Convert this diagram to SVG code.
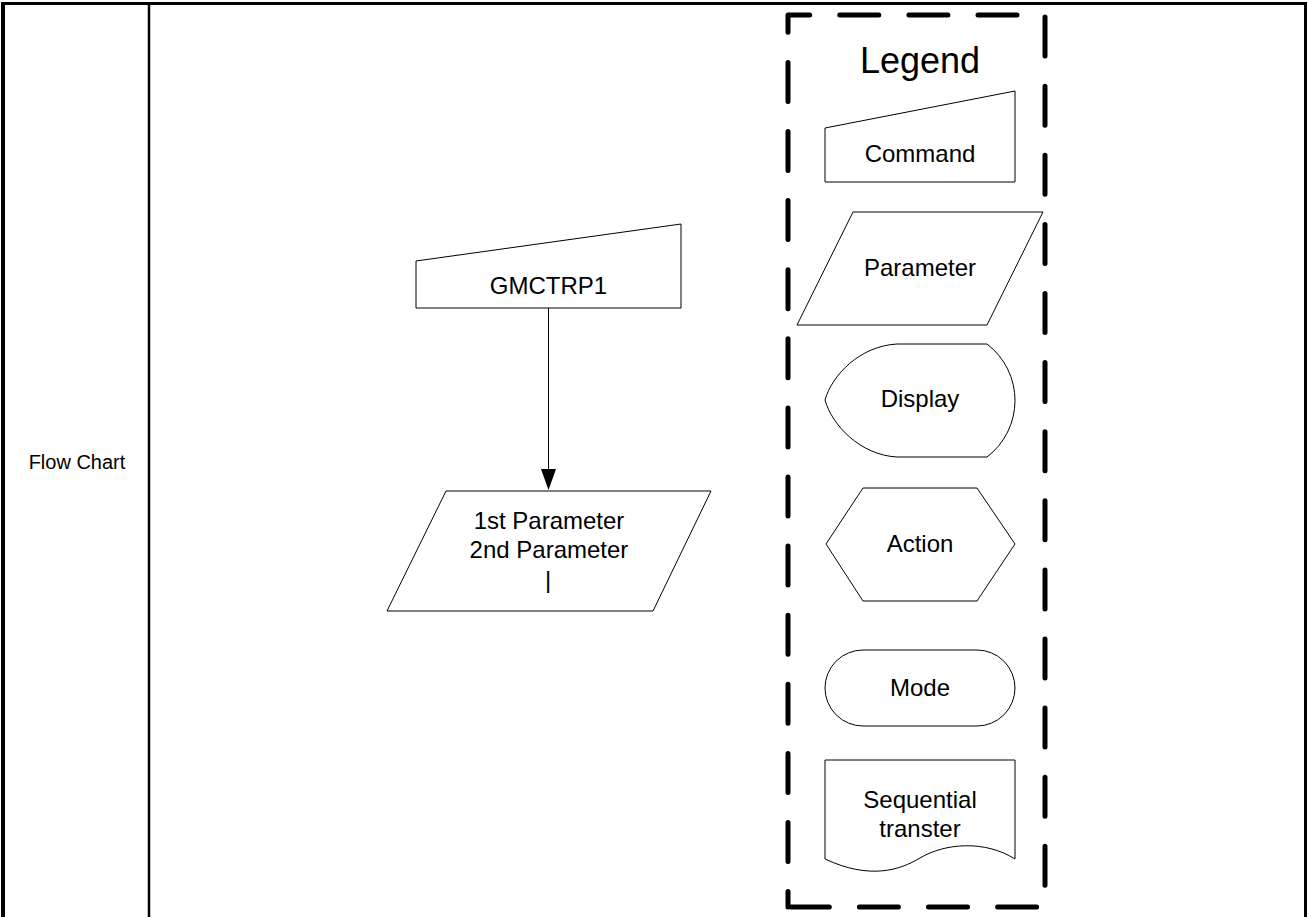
<svg xmlns="http://www.w3.org/2000/svg" width="1308" height="917" viewBox="0 0 1308 917">
<style>
.shape{fill:#fff;stroke:#000;stroke-width:1}
.lbl{font-family:"Liberation Sans",Arial,sans-serif;font-size:24px;fill:#000;text-anchor:middle}
.frame{stroke:#000;fill:none}
</style>
<rect width="1308" height="917" fill="#fff"/>
<g id="frame">
<line class="frame" x1="1" y1="3.5" x2="1307" y2="3.5" stroke-width="3"/>
<line class="frame" x1="3" y1="2" x2="3" y2="917" stroke-width="4"/>
<line class="frame" x1="149" y1="2" x2="149" y2="917" stroke-width="2.5"/>
<line class="frame" x1="1305.5" y1="2" x2="1305.5" y2="917" stroke-width="3"/>
</g>
<g id="row-label">
<text class="lbl" x="77" y="469" style="font-size:20px">Flow Chart</text>
</g>
<g id="legend-box">
<path d="M788,907 V15 H1045 V907 Z" fill="none" stroke="#000" stroke-width="5" stroke-linecap="round" stroke-linejoin="round" stroke-dasharray="39 30.1" stroke-dashoffset="23.6"/>
<text class="lbl" x="920" y="73" style="font-size:36px">Legend</text>
</g>
<g id="connectors">
<line x1="548.5" y1="308" x2="548.5" y2="469" stroke="#000" stroke-width="1"/>
<polygon points="541,469 556,469 548.5,490" fill="#000"/>
</g>
<g id="gmctrp1">
<polygon class="shape" points="416,261 681,224 681,308 416,308"/>
<text class="lbl" x="548.5" y="294">GMCTRP1</text>
</g>
<g id="params">
<polygon class="shape" points="446,491 711,491 653,611 387,611"/>
<text class="lbl" x="549" y="529">1st Parameter</text>
<text class="lbl" x="549" y="558">2nd Parameter</text>
<text class="lbl" x="548" y="588">|</text>
</g>
<g id="legend-command">
<polygon class="shape" points="825,128 1015,91 1015,182 825,182"/>
<text class="lbl" x="920" y="162">Command</text>
</g>
<g id="legend-parameter">
<polygon class="shape" points="853,212 1043,212 987,325 797,325"/>
<text class="lbl" x="920" y="276">Parameter</text>
</g>
<g id="legend-display">
<path class="shape" d="M897,344 H987 A71,71 0 0 1 987,457 H897 C860,455 832,425 825,400 C832,375 860,346 897,344 Z"/>
<text class="lbl" x="920" y="407">Display</text>
</g>
<g id="legend-action">
<polygon class="shape" points="863,488 977,488 1015,544 977,601 863,601 826,544"/>
<text class="lbl" x="920" y="552">Action</text>
</g>
<g id="legend-mode">
<rect class="shape" x="825" y="650" width="190" height="76" rx="38" ry="38"/>
<text class="lbl" x="920" y="696">Mode</text>
</g>
<g id="legend-sequential">
<path class="shape" d="M825,760 H1015 V859 C985,840 945,843 920,858 C900,870 870,880 825,859 Z"/>
<text class="lbl" x="920" y="808">Sequential</text>
<text class="lbl" x="920" y="837">transter</text>
</g>
</svg>
